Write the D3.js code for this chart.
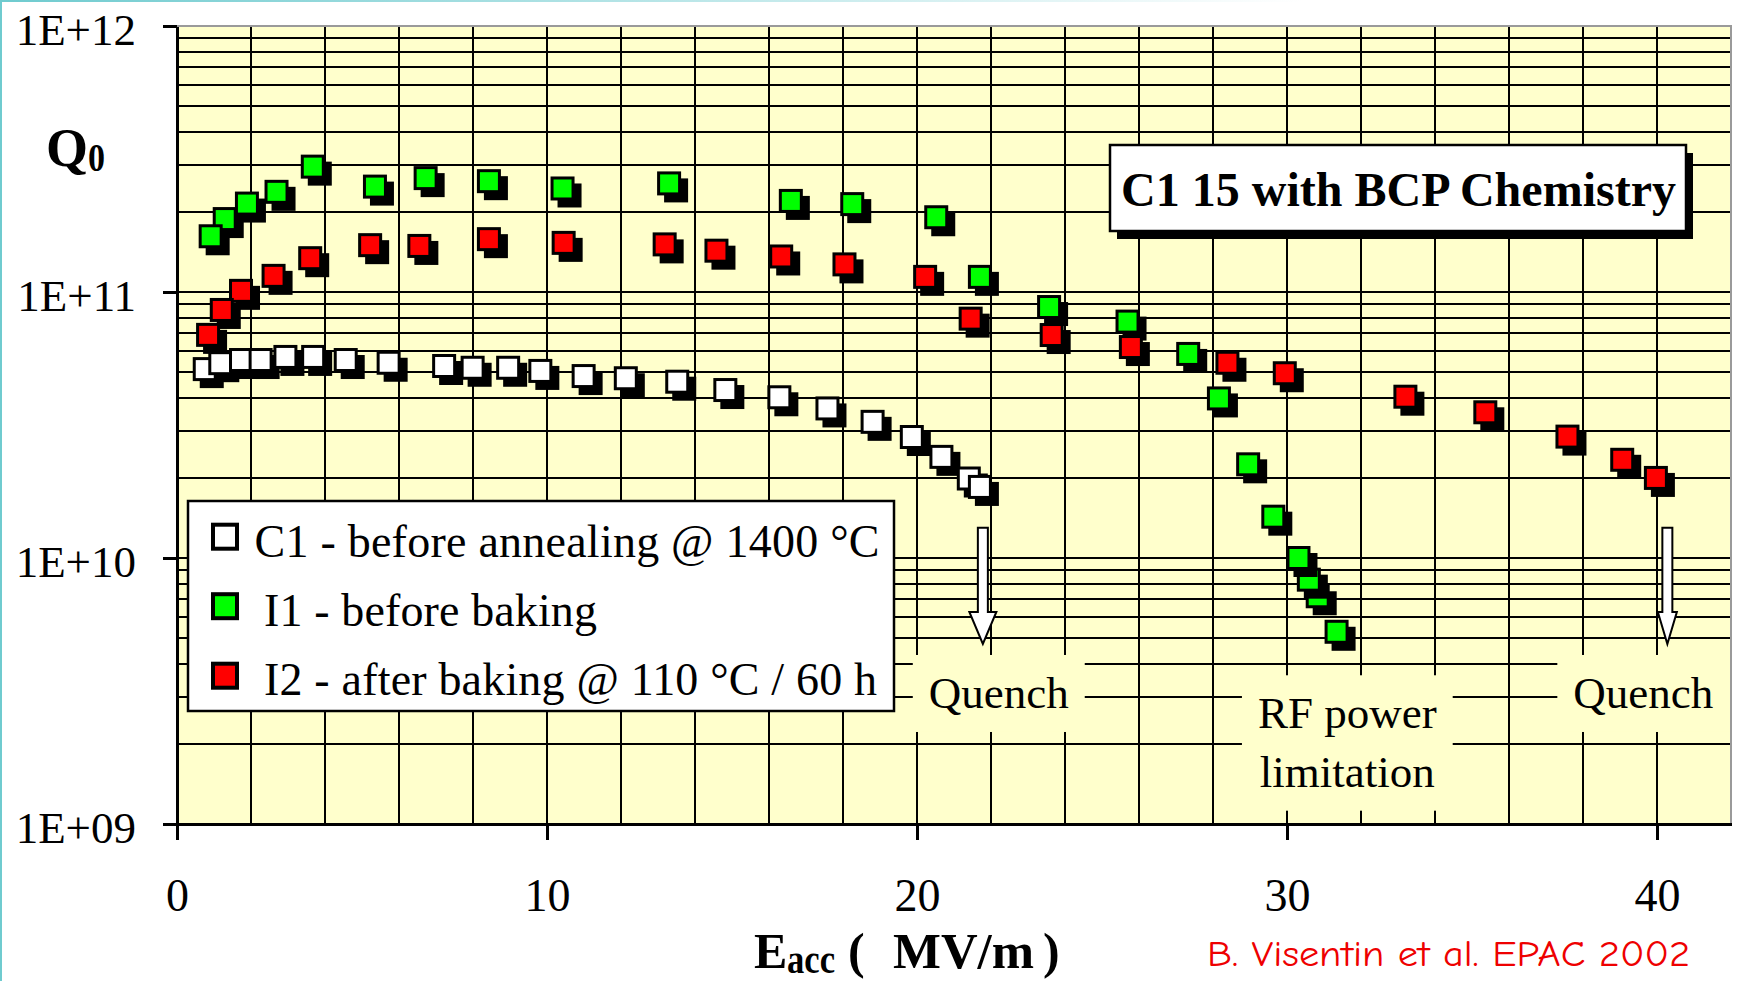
<!DOCTYPE html>
<html>
<head>
<meta charset="utf-8">
<script src="https://cdn.jsdelivr.net/npm/d3@7"></script>
<style>
    body { margin: 0; background: #fff; }
    svg { display: block; }
    text { font-family: "Liberation Serif", "Times New Roman", serif; fill: #000; }
    .grid line, .x-axis line, .y-axis line, .x-axis path, .y-axis path { shape-rendering: crispEdges; }
</style>
</head>
<body>
<div id="chartDiv"></div>
<script>

// C1 - before annealing @ 1400 °C (white squares)
const eC1 = [0.75, 1.17, 1.73, 2.26, 2.93, 3.68, 4.56, 5.72, 7.22, 7.99, 8.95, 9.82, 10.99, 12.13, 13.52, 14.82, 16.28, 17.58, 18.8, 19.86, 20.66, 21.4, 21.7];
const qC1 = [5.13e10, 5.4e10, 5.55e10, 5.55e10, 5.7e10, 5.7e10, 5.55e10, 5.42e10, 5.27e10, 5.19e10, 5.19e10, 5.05e10, 4.83e10, 4.74e10, 4.6e10, 4.28e10, 4.02e10, 3.65e10, 3.25e10, 2.85e10, 2.4e10, 1.99e10, 1.85e10];

// I1 - before baking (green)
const eI1 = [0.91, 1.29, 1.89, 2.69, 3.67, 5.35, 6.72, 8.43, 10.42, 13.3, 16.59, 18.25, 20.52, 21.7, 23.57, 25.69, 27.33, 28.16, 28.95, 29.63, 30.31, 30.59, 30.83, 31.34];
const qI1 = [1.62e11, 1.88e11, 2.15e11, 2.38e11, 2.96e11, 2.49e11, 2.68e11, 2.61e11, 2.45e11, 2.56e11, 2.2e11, 2.14e11, 1.91e11, 1.14e11, 8.78e10, 7.74e10, 5.85e10, 3.98e10, 2.25e10, 1.43e10, 1.0e10, 8.29e9, 7.18e9, 5.28e9];

// I2 - after baking @ 110 °C / 60 h (red)
const eI2 = [0.84, 1.21, 1.73, 2.61, 3.6, 5.22, 6.55, 8.43, 10.45, 13.18, 14.58, 16.33, 18.04, 20.22, 21.45, 23.64, 25.78, 28.39, 29.94, 33.2, 35.36, 37.58, 39.06, 39.97];
const qI2 = [6.9e10, 8.56e10, 1.01e11, 1.15e11, 1.34e11, 1.5e11, 1.49e11, 1.58e11, 1.53e11, 1.51e11, 1.43e11, 1.36e11, 1.27e11, 1.14e11, 7.94e10, 6.89e10, 6.21e10, 5.42e10, 4.95e10, 4.04e10, 3.53e10, 2.86e10, 2.34e10, 2.0e10];

const seriesNames = ["C1 - before annealing @ 1400 °C", "I1 - before baking", "I2 - after baking @ 110 °C / 60 h"];
const seriesColors = ["#ffffff", "#00ff00", "#ff0000"];

// axes
const xTicks = [0, 10, 20, 30, 40];
const yTicks = [1e9, 1e10, 1e11, 1e12];
const yTickLabels = ["1E+09", "1E+10", "1E+11", "1E+12"];

// notes on the plot (E in MV/m, Q0)
const noteLines = [["Quench"], ["RF power", "limitation"], ["Quench"]];
const noteE = [22.21, 31.63, 39.63];
const noteQ = [2.73e9, 2.29e9, 2.73e9];
const arrowE = [21.78, 40.28];
const arrowTopQ = 1.3e10;
const arrowTipQ = 4.75e9;

const chartTitle = "C1 15 with BCP Chemistry";
const credit = "B. Visentin et al. EPAC 2002";


class QVis {

    constructor(parentElement) {
        this.parentElement = parentElement;
        this.series = [
            {name: seriesNames[0], color: seriesColors[0], pts: eC1.map((e, i) => ({e: e, q: qC1[i]}))},
            // green + red were drawn so the earlier points sit on top -> reverse them
            {name: seriesNames[1], color: seriesColors[1], pts: eI1.map((e, i) => ({e: e, q: qI1[i]})).reverse()},
            {name: seriesNames[2], color: seriesColors[2], pts: eI2.map((e, i) => ({e: e, q: qI2[i]})).reverse()}
        ];
        this.initVis();
    }

    initVis() {
        let vis = this;

        vis.margin = {top: 26, right: 7, bottom: 157, left: 177};
        vis.width = 1738 - vis.margin.left - vis.margin.right;
        vis.height = 981 - vis.margin.top - vis.margin.bottom;

        vis.root = d3.select("#" + vis.parentElement).append("svg")
            .attr("width", 1738)
            .attr("height", 981);

        // thin cyan frame of the slide on the left / top
        let grad = vis.root.append("defs").append("linearGradient")
            .attr("id", "topFade").attr("x1", "0").attr("x2", "1").attr("y1", "0").attr("y2", "0");
        grad.append("stop").attr("offset", "0").attr("stop-color", "#6fcbcf").attr("stop-opacity", 1);
        grad.append("stop").attr("offset", "0.75").attr("stop-color", "#6fcbcf").attr("stop-opacity", 0);
        vis.root.append("rect").attr("x", 0).attr("y", 0).attr("width", 1738).attr("height", 2).attr("fill", "url(#topFade)");
        vis.root.append("rect").attr("x", 0).attr("y", 0).attr("width", 2).attr("height", 981).attr("fill", "#6fcbcf");

        vis.svg = vis.root.append("g")
            .attr("transform", `translate(${vis.margin.left}, ${vis.margin.top})`);

        vis.x = d3.scaleLinear().domain([0, 42]).range([0, vis.width]);
        vis.y = d3.scaleLog().domain([1e9, 1e12]).range([vis.height, 0]);

        // plot area
        vis.svg.append("rect")
            .attr("width", vis.width)
            .attr("height", vis.height)
            .attr("fill", "#ffffcc");

        // grid: every 2 MV/m and every minor log step
        let grid = vis.svg.append("g").attr("class", "grid");
        grid.selectAll(".vgrid").data(d3.range(2, 42, 2))
            .enter().append("line")
            .attr("class", "vgrid")
            .attr("x1", d => Math.round(vis.x(d))).attr("x2", d => Math.round(vis.x(d)))
            .attr("y1", 0).attr("y2", vis.height)
            .attr("stroke", "#000").attr("stroke-width", 2);

        grid.selectAll(".hgrid").data(vis.y.ticks().filter(d => d > 1e9 && d < 1e12))
            .enter().append("line")
            .attr("class", "hgrid")
            .attr("x1", 0).attr("x2", vis.width)
            .attr("y1", d => Math.round(vis.y(d))).attr("y2", d => Math.round(vis.y(d)))
            .attr("stroke", "#000").attr("stroke-width", 2);

        // top + right border are grey
        vis.svg.append("path")
            .attr("d", `M0,0H${vis.width}V${vis.height}`)
            .attr("fill", "none")
            .attr("stroke", "#9a9a9a")
            .attr("stroke-width", 2);

        vis.drawNotes();
        vis.drawAxes();
        vis.drawLegend();
        vis.drawTitle();
        vis.updateVis();
    }

    drawAxes() {
        let vis = this;

        let yAxis = d3.axisLeft(vis.y)
            .tickValues(yTicks)
            .tickFormat((d, i) => yTickLabels[i])
            .tickSize(14)
            .tickSizeOuter(0);

        let gy = vis.svg.append("g").attr("class", "y-axis").call(yAxis);
        gy.attr("font-family", null).attr("font-size", null);
        gy.select(".domain").attr("stroke-width", 3);
        gy.selectAll(".tick line").attr("stroke-width", 2.5);
        gy.selectAll(".tick text")
            .attr("x", -41)
            .attr("dy", 18)
            .style("font-size", "45px");

        let xAxis = d3.axisBottom(vis.x)
            .tickValues(xTicks)
            .tickSize(16)
            .tickSizeOuter(0);

        let gx = vis.svg.append("g").attr("class", "x-axis")
            .attr("transform", `translate(0, ${vis.height})`)
            .call(xAxis);
        gx.attr("font-family", null).attr("font-size", null);
        gx.select(".domain").attr("stroke-width", 3);
        gx.selectAll(".tick line").attr("stroke-width", 2.5);
        gx.selectAll(".tick text")
            .attr("y", 87)
            .attr("dy", 0)
            .style("font-size", "46px");

        // x title: E_acc ( MV/m )
        let xt = vis.root.append("text")
            .attr("y", 968)
            .style("font-weight", "bold")
            .style("font-size", "50px");
        xt.append("tspan").attr("x", 754).text("E");
        xt.append("tspan").attr("x", 787).attr("y", 973)
            .style("font-size", "40px")
            .attr("textLength", 48).attr("lengthAdjust", "spacingAndGlyphs")
            .text("acc");
        xt.append("tspan").attr("x", 848).attr("y", 968).text("(");
        xt.append("tspan").attr("x", 893)
            .attr("textLength", 141).attr("lengthAdjust", "spacingAndGlyphs")
            .text("MV/m");
        xt.append("tspan").attr("x", 1043).text(")");

        // y title: Q0
        let yt = vis.root.append("text")
            .attr("y", 166)
            .style("font-weight", "bold")
            .style("font-size", "54px");
        yt.append("tspan").attr("x", 46).text("Q");
        yt.append("tspan").attr("x", 88).attr("y", 171)
            .style("font-size", "40px")
            .attr("textLength", 17).attr("lengthAdjust", "spacingAndGlyphs")
            .text("0");
    }

    drawNotes() {
        let vis = this;

        noteLines.forEach((lines, i) => {
            let g = vis.svg.append("g").attr("class", "note");
            let t = g.append("text")
                .attr("text-anchor", "middle")
                .style("font-size", "45px");
            lines.forEach((l, j) => {
                t.append("tspan")
                    .attr("x", vis.x(noteE[i]))
                    .attr("y", vis.y(noteQ[i]) + j * 58.4)
                    .text(l);
            });
            // knock the grid out behind the text
            let bb = t.node().getBBox();
            let left = bb.x - 16, right = bb.x + bb.width + 16;
            if (vis.width - right < 8) right = vis.width - 1;
            g.insert("rect", "text")
                .attr("x", left)
                .attr("y", bb.y - 13)
                .attr("width", right - left)
                .attr("height", bb.height + 27)
                .attr("fill", "#ffffcc");
        });

        // white block arrows pointing down at the quench limits
        let headHalf = [13.5, 9.5];
        arrowE.forEach((e, i) => {
            let cx = vis.x(e), top = vis.y(arrowTopQ), tip = vis.y(arrowTipQ);
            let hw = 5, hh = headHalf[i], hl = 32;
            vis.svg.append("path")
                .attr("d", `M${cx - hw},${top}H${cx + hw}V${tip - hl}H${cx + hh}L${cx},${tip}L${cx - hh},${tip - hl}H${cx - hw}Z`)
                .attr("fill", "#fff")
                .attr("stroke", "#000")
                .attr("stroke-width", 2);
        });
    }

    drawLegend() {
        let vis = this;

        let lg = vis.root.append("g")
            .attr("class", "legend")
            .attr("transform", "translate(188, 501)");

        lg.append("rect")
            .attr("width", 706)
            .attr("height", 210)
            .attr("fill", "#fff")
            .attr("stroke", "#000")
            .attr("stroke-width", 2.5);

        let lens = [625, 333, 613];
        let entries = lg.selectAll(".entry").data(vis.series)
            .enter().append("g").attr("class", "entry");

        entries.append("rect")
            .attr("x", 25).attr("y", (d, i) => 23.7 + i * 69.5)
            .attr("width", 24).attr("height", 24)
            .attr("fill", d => d.color)
            .attr("stroke", "#000")
            .attr("stroke-width", 4);

        entries.append("text")
            .attr("x", (d, i) => i === 0 ? 66.5 : 76)
            .attr("y", (d, i) => 56 + i * 69)
            .attr("textLength", (d, i) => lens[i])
            .attr("lengthAdjust", "spacing")
            .style("font-size", "46px")
            .text(d => d.name);
    }

    drawTitle() {
        let vis = this;

        let tg = vis.root.append("g").attr("class", "titleBox");
        tg.append("rect")
            .attr("x", 1117).attr("y", 153)
            .attr("width", 576).attr("height", 86)
            .attr("fill", "#000");
        tg.append("rect")
            .attr("x", 1110).attr("y", 145)
            .attr("width", 576).attr("height", 86)
            .attr("fill", "#fff")
            .attr("stroke", "#000")
            .attr("stroke-width", 2.5);
        tg.append("text")
            .attr("x", 1121).attr("y", 206)
            .attr("textLength", 555).attr("lengthAdjust", "spacing")
            .style("font-weight", "bold")
            .style("font-size", "48px")
            .text(chartTitle);

        // credit line, red, comic-ish
        vis.root.append("text")
            .attr("x", 1207).attr("y", 966)
            .attr("textLength", 483).attr("lengthAdjust", "spacingAndGlyphs")
            .style("font-family", "'Comic Sans MS', 'Comic Neue', 'DejaVu Sans', sans-serif")
            .style("font-size", "36px")
            .style("fill", "#ee0000")
            .text(credit);
    }

    updateVis() {
        let vis = this;
        let s = 21, off = 7;

        let groups = vis.svg.selectAll(".series").data(vis.series)
            .enter().append("g").attr("class", "series");

        let pts = groups.selectAll(".pt").data(d => d.pts.map(p => ({e: p.e, q: p.q, color: d.color})))
            .enter().append("g").attr("class", "pt")
            .attr("transform", d => `translate(${vis.x(d.e)}, ${vis.y(d.q)})`);

        // drop shadow
        pts.append("rect")
            .attr("x", -s / 2 - 1.5 + off).attr("y", -s / 2 - 1.5 + off)
            .attr("width", s + 3).attr("height", s + 3)
            .attr("fill", "#000");

        pts.append("rect")
            .attr("x", -s / 2).attr("y", -s / 2)
            .attr("width", s).attr("height", s)
            .attr("fill", d => d.color)
            .attr("stroke", "#000")
            .attr("stroke-width", 3);
    }
}

new QVis("chartDiv");

</script>
</body>
</html>
